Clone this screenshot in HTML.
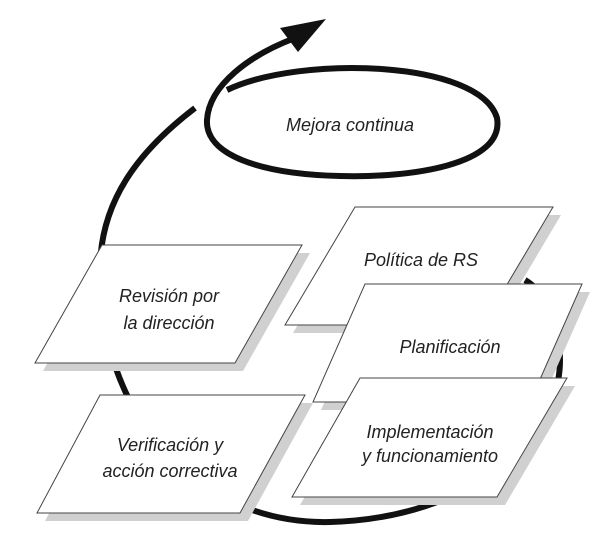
<!DOCTYPE html>
<html><head><style>
html,body{margin:0;padding:0;background:#fff;}
svg{display:block;}
text{font-family:"Liberation Sans",sans-serif;font-style:italic;font-size:18px;fill:#222;}
</style></head><body>
<svg width="616" height="549" viewBox="0 0 616 549">
<path d="M195,108 C140,150 100,200 100,270 C100,420 200,525 330,522 C470,518 560,440 560,360 C560,320 545,292 525,280" fill="none" stroke="#111" stroke-width="6"/>
<path d="M227,90 C300,55 480,60 497,118 C505,165 410,178 340,176 C260,174 205,155 207,120 C209,85 250,55 295,38" fill="none" stroke="#111" stroke-width="6"/>
<polygon points="326,19 280,28 298,52" fill="#111"/>
<text x="350" y="131" text-anchor="middle">Mejora continua</text>

<polygon points="363,215 561,215 491,333 293,333" fill="#d0d0d0"/>
<polygon points="355,207 553,207 483,325 285,325" fill="#fff" stroke="#444" stroke-width="1"/>
<text x="421" y="266" text-anchor="middle">Política de RS</text>

<polygon points="373,292 590,292 538,410 321,410" fill="#d0d0d0"/>
<polygon points="365,284 582,284 530,402 313,402" fill="#fff" stroke="#444" stroke-width="1"/>
<text x="450" y="353" text-anchor="middle">Planificación</text>

<polygon points="368,386 575,386 505,505 300,505" fill="#d0d0d0"/>
<polygon points="360,378 567,378 497,497 292,497" fill="#fff" stroke="#444" stroke-width="1"/>
<text x="430" y="438" text-anchor="middle">Implementación</text>
<text x="430" y="462" text-anchor="middle">y funcionamiento</text>

<polygon points="110,253 310,253 243,371 43,371" fill="#d0d0d0"/>
<polygon points="102,245 302,245 235,363 35,363" fill="#fff" stroke="#444" stroke-width="1"/>
<text x="169" y="302" text-anchor="middle">Revisión por</text>
<text x="169" y="329" text-anchor="middle">la dirección</text>

<polygon points="108,403 313,403 248,521 45,521" fill="#d0d0d0"/>
<polygon points="100,395 305,395 240,513 37,513" fill="#fff" stroke="#444" stroke-width="1"/>
<text x="170" y="451" text-anchor="middle">Verificación y</text>
<text x="170" y="477" text-anchor="middle">acción correctiva</text>
</svg>
</body></html>
